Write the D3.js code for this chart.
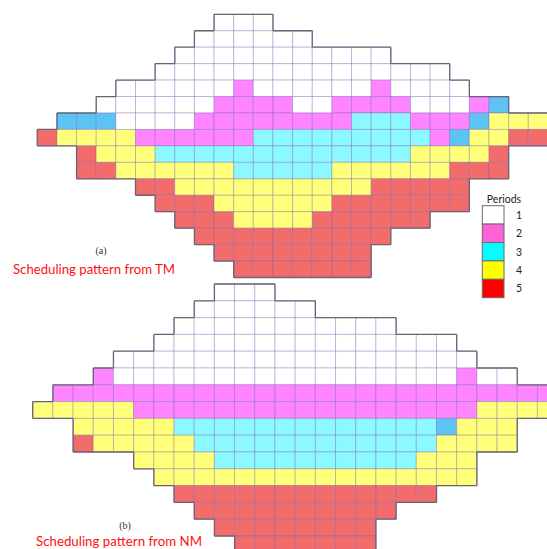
<!DOCTYPE html>
<html><head><meta charset="utf-8">
<script src="https://cdn.jsdelivr.net/npm/d3@7/dist/d3.min.js"></script>
<style>body{margin:0;background:#fff}svg{display:block}</style>
</head><body>
<script>
// ---- data: each row = first column index + runs of [period, count] ----
const nCols = 26, nRows = 16;
const tmStart = [9, 8, 7, 6, 4, 3, 1, 0, 2, 2, 5, 6, 7, 8, 9, 10];
const tmRuns = [
  [[1,3]],
  [[1,6]],
  [[1,11]],
  [[1,15]],
  [[1,6],[2,1],[1,6],[2,1],[1,4]],
  [[1,6],[2,4],[1,2],[2,4],[1,3],[2,1],[6,1]],
  [[6,3],[1,4],[2,8],[3,3],[2,3],[6,1],[4,3]],
  [[5,1],[4,4],[2,6],[3,9],[2,1],[6,1],[4,2],[5,2]],
  [[5,1],[4,3],[3,13],[4,4],[5,1]],
  [[5,2],[4,6],[3,5],[4,6],[5,3]],
  [[5,2],[4,10],[5,5]],
  [[5,3],[4,6],[5,7]],
  [[5,3],[4,4],[5,6]],
  [[5,10]],
  [[5,8]],
  [[5,7]]
];
const nmStart = [9, 8, 7, 6, 4, 3, 1, 0, 2, 2, 5, 6, 7, 8, 9, 10];
const nmRuns = [
  [[1,3]],
  [[1,6]],
  [[1,11]],
  [[1,15]],
  [[1,18]],
  [[2,1],[1,17],[2,1],[1,2]],
  [[2,25]],
  [[4,5],[2,17],[4,4]],
  [[4,5],[3,13],[6,1],[4,3]],
  [[5,1],[4,5],[3,12],[4,4]],
  [[4,4],[3,10],[4,3]],
  [[4,16]],
  [[5,13]],
  [[5,10]],
  [[5,8]],
  [[5,7]]
];
const legendPeriods = [1, 2, 3, 4, 5];
const legendTitle = "Periods";
const labelA = "(a)", titleA = "Scheduling pattern from TM";
const labelB = "(b)", titleB = "Scheduling pattern from NM";

// ---- styles ----
const cellColor = {1:"#ffffff", 2:"#ff84ff", 3:"#8cf8ff", 4:"#ffff7a", 5:"#f36c6c", 6:"#5cc4f4"};
const legendColor = {1:"#ffffff", 2:"#ff62d4", 3:"#00ffff", 4:"#ffff00", 5:"#ff0000"};

const W = 547, H = 549;
const svg = d3.select("body").append("svg").attr("width", W).attr("height", H)
  .style("font-family", "Lato, 'Open Sans', sans-serif");

function drawGrid(starts, runs, xs, ys) {
  const g = svg.append("g");
  const cells = [];
  runs.forEach((row, r) => {
    let c = starts[r];
    row.forEach(([p, n]) => { for (let i = 0; i < n; i++) cells.push({r, c: c++, p}); });
  });
  const key = new Set(cells.map(d => d.r + "," + d.c));
  g.selectAll("rect").data(cells).join("rect")
    .attr("x", d => xs(d.c)).attr("y", d => ys(d.r))
    .attr("width", xs.bandwidth()).attr("height", ys.bandwidth())
    .attr("fill", d => cellColor[d.p])
    .attr("stroke", "rgba(110,90,170,0.34)").attr("stroke-width", 1);
  let path = "";
  const bw = xs.bandwidth(), bh = ys.bandwidth();
  cells.forEach(d => {
    const x0 = xs(d.c), x1 = x0 + bw, y0 = ys(d.r), y1 = y0 + bh;
    if (!key.has((d.r - 1) + "," + d.c)) path += `M${x0},${y0}H${x1}`;
    if (!key.has((d.r + 1) + "," + d.c)) path += `M${x0},${y1}H${x1}`;
    if (!key.has(d.r + "," + (d.c - 1))) path += `M${x0},${y0}V${y1}`;
    if (!key.has(d.r + "," + (d.c + 1))) path += `M${x1},${y0}V${y1}`;
  });
  g.append("path").attr("d", path).attr("fill", "none")
    .attr("stroke", "#686478").attr("stroke-width", 1.3);
}

// top grid (a)
const xA = d3.scaleBand().domain(d3.range(nCols)).range([37.3, 37.3 + nCols * 19.64]);
const yA = d3.scaleBand().domain(d3.range(nRows)).range([14.3, 14.3 + nRows * 16.45]);
drawGrid(tmStart, tmRuns, xA, yA);

// bottom grid (b)
const xB = d3.scaleBand().domain(d3.range(nCols)).range([32.7, 32.7 + nCols * 20.19]);
const yB = d3.scaleBand().domain(d3.range(nRows)).range([284, 284 + nRows * 16.8]);
drawGrid(nmStart, nmRuns, xB, yB);

// labels
svg.append("text").attr("x", 101).attr("y", 253.5).attr("text-anchor", "middle")
  .style("font-family", "'Liberation Serif', 'DejaVu Serif', serif").style("font-size", "10px")
  .attr("fill", "#333").text(labelA);
svg.append("text").attr("x", 13).attr("y", 274)
  .attr("textLength", 162).attr("lengthAdjust", "spacingAndGlyphs")
  .style("font-size", "14px").attr("fill", "#ff1010").text(titleA);
svg.append("text").attr("x", 125).attr("y", 528.5).attr("text-anchor", "middle")
  .style("font-family", "'Liberation Serif', 'DejaVu Serif', serif").style("font-size", "10px")
  .attr("fill", "#333").text(labelB);
svg.append("text").attr("x", 36).attr("y", 545.5)
  .attr("textLength", 166).attr("lengthAdjust", "spacingAndGlyphs")
  .style("font-size", "14px").attr("fill", "#ff1010").text(titleB);

// legend
const yL = d3.scaleBand().domain(legendPeriods).range([205.7, 205.7 + 5 * 18.4]);
const lg = svg.append("g");
lg.append("text").attr("x", 504).attr("y", 202.5).attr("text-anchor", "middle")
  .style("font-size", "10.5px").attr("fill", "#222").text(legendTitle);
lg.selectAll("rect").data(legendPeriods).join("rect")
  .attr("x", 482.3).attr("y", d => yL(d)).attr("width", 21.7).attr("height", yL.bandwidth())
  .attr("fill", d => legendColor[d]).attr("stroke", "#6a6a6a").attr("stroke-width", 1);
lg.selectAll("text.n").data(legendPeriods).join("text").attr("class", "n")
  .attr("x", 519).attr("y", d => yL(d) + yL.bandwidth() / 2 + 3.8).attr("text-anchor", "middle")
  .style("font-size", "10.5px").attr("fill", "#222").text(d => d);
</script>
</body></html>
